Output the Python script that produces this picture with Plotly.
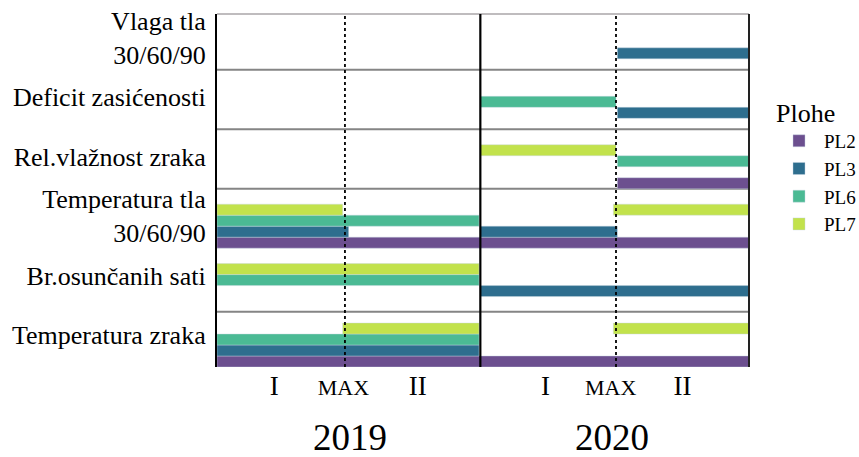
import plotly.graph_objects as go

# ---------------- data ----------------
categories = [
    "Temperatura zraka",
    "Br.osunčanih sati",
    "Temperatura tla<br>30/60/90",
    "Rel.vlažnost zraka",
    "Deficit zasićenosti",
    "Vlaga tla<br>30/60/90",
]
TZ, BS, TT, RV, DZ, VT = categories

series_names = ["PL2", "PL3", "PL6", "PL7"]
series_colors = ["#6c4f8f", "#2e6e8e", "#4bba94", "#c2e24c"]

# time axis: 2019 = 0..1.98 (MAX at 0.96), 2020 = 1.98..4 (MAX at 3.0)
pl2_cat = [TZ, TT, RV]
pl2_start = [0.0, 0.0, 3.01]
pl2_end = [4.0, 4.0, 4.0]

pl3_cat = [TZ, BS, TT, TT, DZ, VT]
pl3_start = [0.0, 1.98, 0.0, 1.98, 3.01, 3.01]
pl3_end = [1.97, 4.0, 0.99, 3.01, 4.0, 4.0]

pl6_cat = [TZ, BS, TT, RV, DZ]
pl6_start = [0.0, 0.0, 0.0, 3.01, 1.98]
pl6_end = [1.97, 1.97, 1.97, 4.0, 3.0]

pl7_cat = [TZ, TZ, BS, TT, TT, RV]
pl7_start = [0.945, 2.98, 0.0, 0.0, 2.98, 1.98]
pl7_end = [1.97, 4.0, 1.97, 0.945, 4.0, 3.0]

tick_vals = [0.43, 0.95, 1.51, 2.47, 2.96, 3.5]
tick_text = ["I", "<span style='font-size:22px'>MAX</span>", "II",
             "I", "<span style='font-size:22px'>MAX</span>", "II"]
years = ["2019", "2020"]
year_pos = [1.0, 2.97]
max_pos = [0.962, 3.0]
year_boundary = 1.98

# ---------------- figure ----------------
SERIF = "Liberation Serif"
fig = go.Figure()
all_cat = [pl2_cat, pl3_cat, pl6_cat, pl7_cat]
all_start = [pl2_start, pl3_start, pl6_start, pl7_start]
all_end = [pl2_end, pl3_end, pl6_end, pl7_end]
for name, col, cats, st, en in zip(series_names, series_colors, all_cat, all_start, all_end):
    fig.add_trace(go.Bar(
        name=name,
        y=cats,
        x=[e - s for s, e in zip(st, en)],
        base=st,
        orientation="h",
        marker=dict(color=col, line=dict(color="rgba(200,215,225,0.7)", width=0.6)),
    ))

shapes = []
# horizontal separators
for yv in [4.63, 3.63, 2.63, 0.56]:
    shapes.append(dict(type="line", xref="paper", yref="y", x0=0, x1=1, y0=yv, y1=yv,
                       line=dict(color="#858585", width=2), layer="below"))
shapes.append(dict(type="line", xref="paper", yref="paper", x0=0, x1=1, y0=1, y1=1,
                   line=dict(color="#aaa6a8", width=1.5), layer="below"))
# vertical lines
for xv in max_pos:
    shapes.append(dict(type="line", xref="x", yref="paper", x0=xv, x1=xv, y0=0, y1=1,
                       line=dict(color="black", width=1.8, dash="dot"), layer="above"))
shapes.append(dict(type="line", xref="x", yref="paper", x0=year_boundary, x1=year_boundary,
                   y0=0, y1=1, line=dict(color="black", width=2.2), layer="above"))
shapes.append(dict(type="line", xref="paper", yref="paper", x0=1, x1=1, y0=0, y1=1,
                   line=dict(color="#222222", width=2), layer="above"))

annotations = [
    dict(text=yr, x=xp, xref="x", y=-0.2, yref="paper", showarrow=False,
         xanchor="center", yanchor="middle", font=dict(family=SERIF, size=37, color="black"))
    for yr, xp in zip(years, year_pos)
]

fig.update_layout(
    width=859, height=457,
    margin=dict(l=217, r=110, t=14, b=90, autoexpand=False),
    paper_bgcolor="white", plot_bgcolor="white",
    barmode="group", bargap=0.26, bargroupgap=0,
    shapes=shapes, annotations=annotations,
    showlegend=True,
    legend=dict(
        title=dict(text="Plohe", font=dict(family=SERIF, size=26, color="black")),
        font=dict(family=SERIF, size=19, color="black"),
        x=1.047, xanchor="left", y=0.79, yanchor="top",
        itemwidth=40,
        traceorder="normal", tracegroupgap=0, bgcolor="rgba(0,0,0,0)",
    ),
    xaxis=dict(
        range=[0, 4], showgrid=False, zeroline=False, showline=False,
        tickmode="array", tickvals=tick_vals, ticktext=tick_text, ticks="",
        tickfont=dict(family=SERIF, size=27, color="black"), automargin=False,
    ),
    yaxis=dict(
        type="category", categoryorder="array", categoryarray=categories,
        range=[-0.37, 5.57], showgrid=False, zeroline=False,
        showline=True, linecolor="black", linewidth=2.2, ticks="",
        tickfont=dict(family=SERIF, size=26, color="black"),
        ticklabelstandoff=4, ticklabelshift=-10, automargin=False,
    ),
)

fig.write_html(
    "out.html",
    config={"responsive": False, "displayModeBar": False},
    post_script="document.body.style.margin='0';document.body.style.overflow='hidden';",
)
